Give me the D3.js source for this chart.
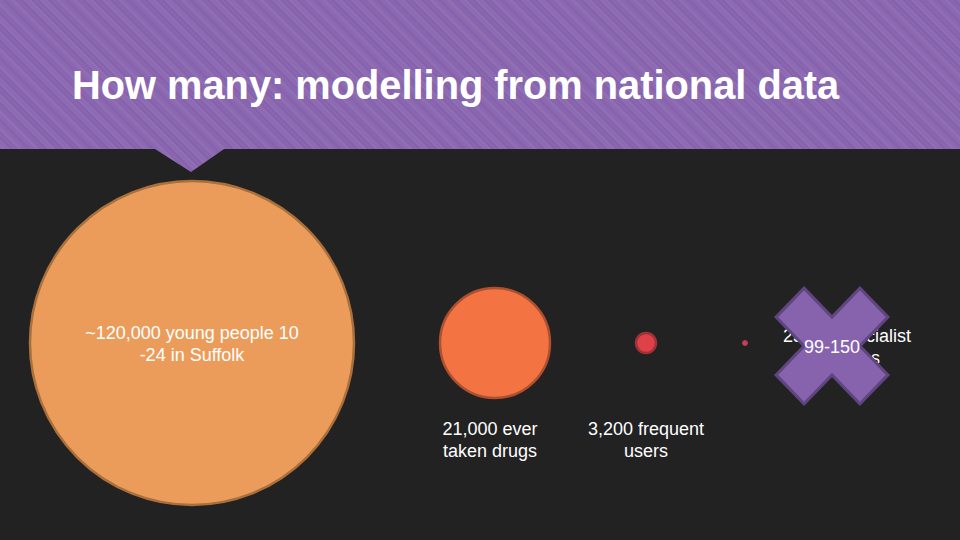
<!DOCTYPE html>
<html>
<head>
<meta charset="utf-8">
<script src="https://cdn.jsdelivr.net/npm/d3@7"></script>
<style>
  html, body { margin: 0; padding: 0; background: #222222; }
  svg { display: block; }
  text { font-family: "Liberation Sans", Arial, sans-serif; }
</style>
</head>
<body>
<svg id="chart" width="960" height="540"></svg>
<script>
// Data
var categories = ["young people", "ever taken drugs", "frequent users", "specialist services"];
var counts = [120000, 21000, 3200, 235];
var labels = [
  ["~120,000 young people 10", "-24 in Suffolk"],
  ["21,000 ever", "taken drugs"],
  ["3,200 frequent", "users"],
  ["235 in specialist", "services"]
];
var titleText = "How many: modelling from national data";
var crossedOutLabel = "99-150";

var fills = ["#ec9c5a", "#f37342", "#df4149", "#c9405c"];
var strokes = ["#a9703c", "#ad5030", "#a23137", "#b03a55"];

var svg = d3.select("#chart");
var defs = svg.append("defs");

// Header stripes: a fine hatch with a wider soft band on top
var fine = defs.append("pattern")
  .attr("id", "fineStripes")
  .attr("width", 4)
  .attr("height", 4)
  .attr("patternUnits", "userSpaceOnUse")
  .attr("patternTransform", "rotate(45)");
fine.append("rect").attr("width", 4).attr("height", 4).attr("fill", "#8b67b1");
fine.append("rect").attr("width", 4).attr("height", 2).attr("fill", "#8662ad");

var wide = defs.append("pattern")
  .attr("id", "wideStripes")
  .attr("width", 11)
  .attr("height", 11)
  .attr("patternUnits", "userSpaceOnUse")
  .attr("patternTransform", "rotate(45)");
wide.append("rect").attr("width", 11).attr("height", 5).attr("fill", "#ffffff").attr("fill-opacity", 0.05);

// Circle positions and radii, the radii are not strictly proportional in the slide
var xPos = d3.scaleOrdinal().domain(categories).range([192, 495, 646, 745]);
var r = d3.scaleLinear().domain([235, 3200, 21000, 120000]).range([2.5, 10, 55, 162]);

var centerY = 343;

// Header
var headerShape = d3.line()([[0, 0], [960, 0], [960, 149], [224, 149], [191, 172], [155, 149], [0, 149]]);
svg.append("path").attr("d", headerShape).attr("fill", "url(#fineStripes)");
svg.append("path").attr("d", headerShape).attr("fill", "url(#wideStripes)");

svg.append("text")
  .attr("x", 72)
  .attr("y", 99)
  .attr("fill", "#ffffff")
  .attr("font-size", 39.8)
  .attr("font-weight", "bold")
  .text(titleText);

// Circles
svg.selectAll("circle.count")
  .data(categories)
  .enter()
  .append("circle")
  .attr("class", "count")
  .attr("cx", d => xPos(d))
  .attr("cy", centerY)
  .attr("r", (d, i) => r(counts[i]))
  .attr("fill", (d, i) => fills[i])
  .attr("stroke", (d, i) => strokes[i])
  .attr("stroke-width", (d, i) => i < 3 ? 2.5 : 1);

// Labels
var labelX = [192, 490, 646, 847];
var labelY = [339, 435, 435, 342];
labels.forEach(function (lines, i) {
  lines.forEach(function (line, j) {
    svg.append("text")
      .attr("x", labelX[i])
      .attr("y", labelY[i] + j * 22)
      .attr("text-anchor", "middle")
      .attr("font-size", 18)
      .attr("fill", "#ffffff")
      .text(line);
  });
});

// Big cross over the last label
svg.append("path")
  .attr("d", d3.symbol().type(d3.symbolCross).size(7800)())
  .attr("transform", "translate(832,346) scale(1,1.035) rotate(45)")
  .attr("fill", "#8763ae")
  .attr("stroke", "#5f4680")
  .attr("stroke-width", 3);

svg.append("text")
  .attr("x", 832)
  .attr("y", 353)
  .attr("text-anchor", "middle")
  .attr("font-size", 18)
  .attr("fill", "#ffffff")
  .text(crossedOutLabel);
</script>
</body>
</html>
